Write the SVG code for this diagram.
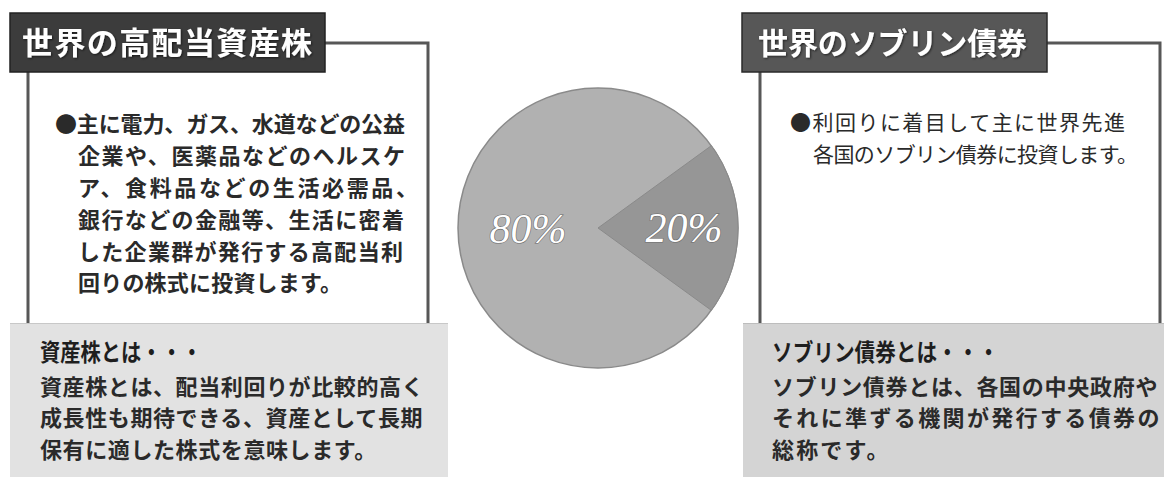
<svg xmlns="http://www.w3.org/2000/svg" width="1164" height="477" viewBox="0 0 1164 477">
<defs>
<style>
.title{font-family:"Noto Sans CJK JP","Noto Sans CJK SC",sans-serif;font-weight:bold;fill:#fff;}
.body{font-family:"Noto Sans CJK JP","Noto Sans CJK SC",sans-serif;font-weight:bold;fill:#2a2a2a;font-size:22px;}
.small{font-family:"Noto Sans CJK JP","Noto Sans CJK SC",sans-serif;font-weight:bold;fill:#2a2a2a;font-size:22px;letter-spacing:0.6px;}
.head{font-family:"Noto Sans CJK JP","Noto Sans CJK SC",sans-serif;font-weight:bold;fill:#1e1e1e;font-size:24px;}
.rb{font-family:"Noto Sans CJK JP","Noto Sans CJK SC",sans-serif;font-weight:normal;fill:#2a2a2a;font-size:21px;}
.frame{fill:none;stroke:#575757;stroke-width:3;}
.pct{font-family:"Liberation Serif","DejaVu Serif",serif;font-style:italic;font-size:42px;fill:#fff;stroke:#6a6a6a;stroke-width:1.2;paint-order:stroke;text-anchor:middle;}
</style>
<filter id="sh" x="-5%" y="-10%" width="110%" height="130%">
<feDropShadow dx="1" dy="1" stdDeviation="1" flood-color="#000" flood-opacity="0.6"/>
</filter>
</defs>
<rect width="1164" height="477" fill="#fff"/>

<g id="left-panel">
<path class="frame" d="M325,43 H428 V323 M28,72 V323"/>
<rect x="10" y="13" width="315" height="59" fill="#3c3c3c" stroke="#222" stroke-width="1.5"/>
<text class="title" x="22" y="54" font-size="31" textLength="290" lengthAdjust="spacing" filter="url(#sh)">世界の高配当資産株</text>
<text class="body" x="55" y="132" textLength="350" lengthAdjust="spacing">●主に電力、ガス、水道などの公益</text>
<text class="body" x="78" y="164" textLength="327" lengthAdjust="spacing">企業や、医薬品などのヘルスケ</text>
<text class="body" x="78" y="196" textLength="340" lengthAdjust="spacing">ア、食料品などの生活必需品、</text>
<text class="body" x="78" y="228" textLength="326" lengthAdjust="spacing">銀行などの金融等、生活に密着</text>
<text class="body" x="78" y="260" textLength="325" lengthAdjust="spacing">した企業群が発行する高配当利</text>
<text class="body" x="78" y="291" textLength="264" lengthAdjust="spacing">回りの株式に投資します。</text>
</g>

<g id="left-note">
<rect x="10" y="323" width="438" height="154" fill="#e2e2e2"/>
<line x1="10" y1="323.5" x2="448" y2="323.5" stroke="#c8c8c8" stroke-width="1"/>
<text class="head" x="40" y="361" textLength="162" lengthAdjust="spacingAndGlyphs">資産株とは・・・</text>
<text class="small" x="40" y="395">資産株とは、配当利回りが比較的高く</text>
<text class="small" x="40" y="426">成長性も期待できる、資産として長期</text>
<text class="small" x="40" y="458">保有に適した株式を意味します。</text>
</g>

<g id="pie">
<circle cx="598" cy="228" r="140" fill="#b1b1b1" stroke="#8a8a8a" stroke-width="1.5"/>
<path d="M598,228 L711.3,145.7 A140,140 0 0 1 711.3,310.3 Z" fill="#969696" stroke="#8a8a8a" stroke-width="1"/>
<text class="pct" x="528" y="243">80%</text>
<text class="pct" x="684" y="242">20%</text>
</g>

<g id="right-panel">
<path class="frame" d="M1047,43 H1160 V323 M760,72 V323"/>
<rect x="742" y="13" width="305" height="59" fill="#575757" stroke="#2a2a2a" stroke-width="1.5"/>
<text class="title" x="758" y="54" font-size="30" textLength="269" lengthAdjust="spacing" filter="url(#sh)">世界のソブリン債券</text>
<text class="rb" x="790" y="130" textLength="335" lengthAdjust="spacing">●利回りに着目して主に世界先進</text>
<text class="rb" x="813" y="162" textLength="325" lengthAdjust="spacing">各国のソブリン債券に投資します。</text>
</g>

<g id="right-note">
<rect x="743" y="323" width="421" height="154" fill="#d4d4d4"/>
<line x1="743" y1="323.5" x2="1164" y2="323.5" stroke="#bdbdbd" stroke-width="1"/>
<text class="head" x="772" y="361" textLength="227" lengthAdjust="spacingAndGlyphs">ソブリン債券とは・・・</text>
<text class="small" x="772" y="395" textLength="386" lengthAdjust="spacing">ソブリン債券とは、各国の中央政府や</text>
<text class="small" x="772" y="426" textLength="388" lengthAdjust="spacing">それに準ずる機関が発行する債券の</text>
<text class="small" x="772" y="458" textLength="117" lengthAdjust="spacing">総称です。</text>
</g>

<g id="connectors"></g>
</svg>
